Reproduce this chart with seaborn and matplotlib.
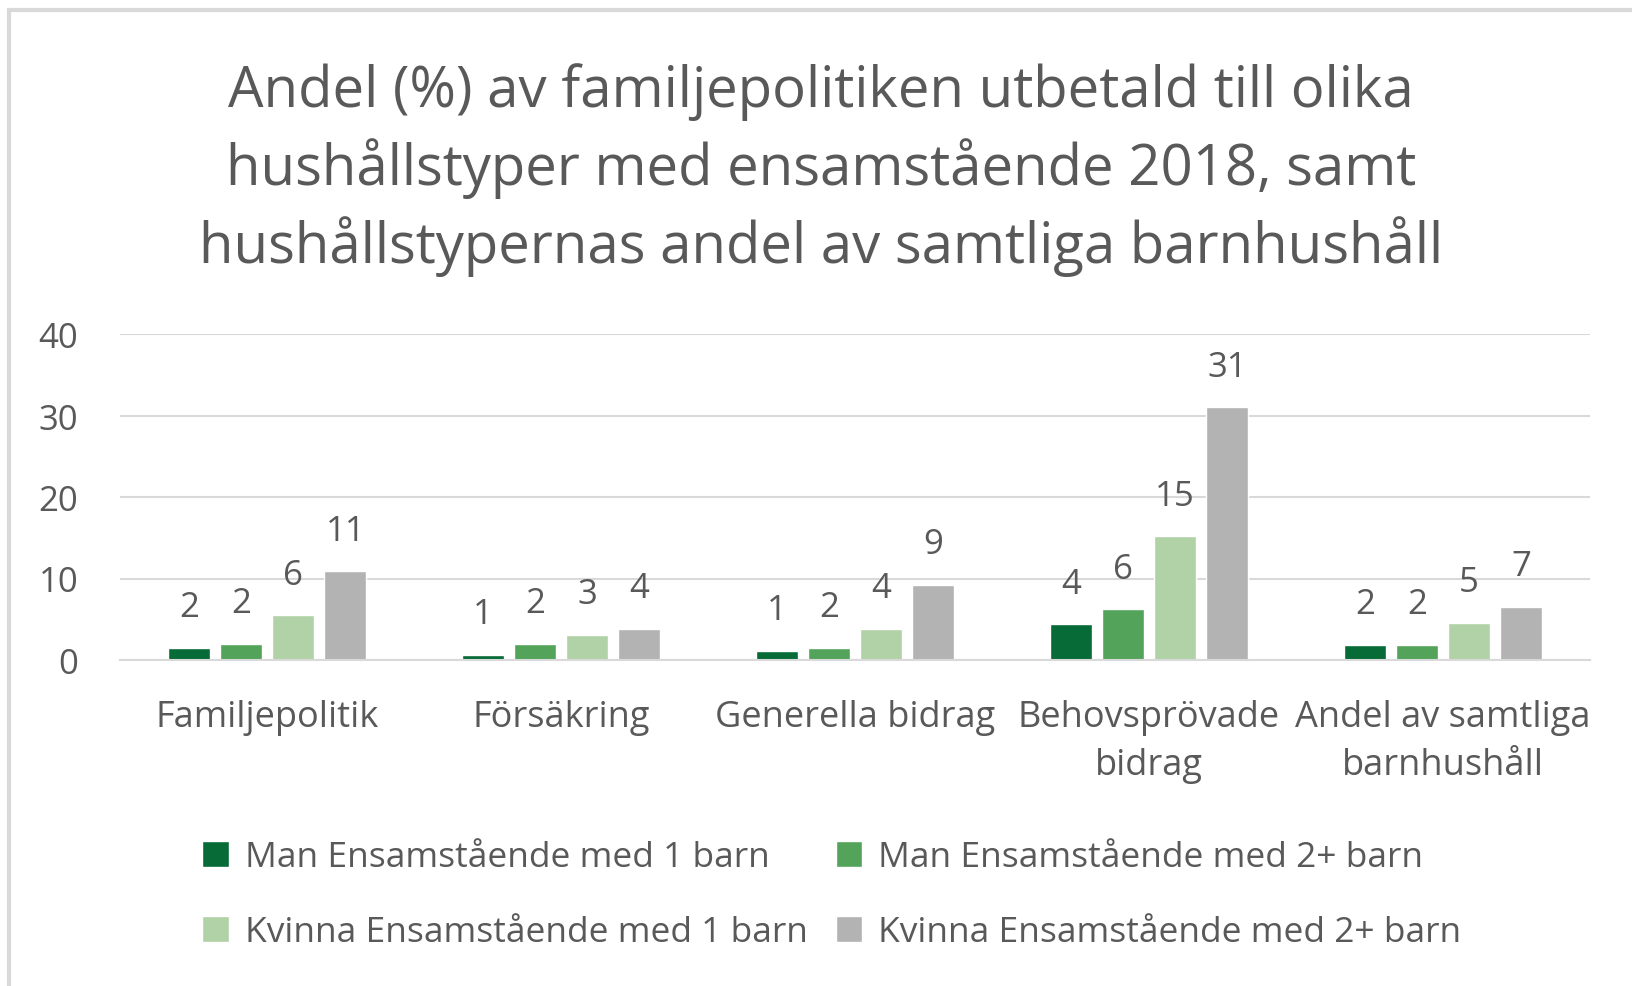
import numpy as np
import pandas as pd
import matplotlib
matplotlib.use("Agg")
import matplotlib.pyplot as plt
import seaborn as sns
from matplotlib.patches import Rectangle

# data
categories = ["Familjepolitik", "Försäkring", "Generella bidrag",
              "Behovsprövade\nbidrag", "Andel av samtliga\nbarnhushåll"]
series = ["Man Ensamstående med 1 barn", "Man Ensamstående med 2+ barn",
          "Kvinna Ensamstående med 1 barn", "Kvinna Ensamstående med 2+ barn"]
man_1 = [1.5, 0.6, 1.1, 4.4, 1.9]
man_2 = [2.0, 2.0, 1.5, 6.2, 1.9]
kvinna_1 = [5.5, 3.1, 3.8, 15.2, 4.6]
kvinna_2 = [10.9, 3.8, 9.2, 31.0, 6.5]
labels_man_1 = [2, 1, 1, 4, 2]
labels_man_2 = [2, 2, 2, 6, 2]
labels_kvinna_1 = [6, 3, 4, 15, 5]
labels_kvinna_2 = [11, 4, 9, 31, 7]
colors = ["#066b37", "#53a35a", "#b1d2a6", "#b3b3b3"]

values = [man_1, man_2, kvinna_1, kvinna_2]
bar_labels = [labels_man_1, labels_man_2, labels_kvinna_1, labels_kvinna_2]

df = pd.DataFrame({
    "kategori": np.repeat(categories, len(series)),
    "serie": series * len(categories),
    "andel": [values[s][c] for c in range(len(categories)) for s in range(len(series))],
})

sns.set_theme(style="white")
plt.rcParams["font.family"] = ["Open Sans", "DejaVu Sans"]
text_grey = "#595959"

fig = plt.figure(figsize=(16.32, 9.87), dpi=100)
ax = fig.add_axes([120 / 1632, 1 - 661 / 987, (1590 - 120) / 1632, (661 - 335) / 987])

sns.barplot(data=df, x="kategori", y="andel", hue="serie", hue_order=series,
            order=categories, palette=colors, width=0.71, gap=0.2,
            saturation=1, ax=ax, legend=True)

# data labels
for container, labs in zip(ax.containers, bar_labels):
    ax.bar_label(container, labels=[str(v) for v in labs], padding=17,
                 fontsize=25, color=text_grey)

ax.set_ylim(0, 40)
ax.set_yticks([0, 10, 20, 30, 40])
ax.yaxis.grid(True, color="#d9d9d9", linewidth=1.5)
ax.set_axisbelow(True)
for s in ["top", "right", "left"]:
    ax.spines[s].set_visible(False)
ax.spines["bottom"].set_color("#d9d9d9")
ax.spines["bottom"].set_linewidth(1.5)
ax.tick_params(axis="y", labelsize=25, labelcolor=text_grey, length=0, pad=30)
ax.tick_params(axis="x", labelsize=26, labelcolor=text_grey, length=0, pad=28)
ax.set_xlabel("")
ax.set_ylabel("")
for lab in ax.get_xticklabels():
    lab.set_linespacing(1.45)

# legend filled row by row like the original
handles, labels = ax.get_legend_handles_labels()
ax.get_legend().remove()
order = [0, 2, 1, 3]
fig.legend([handles[i] for i in order], [labels[i] for i in order],
           loc="upper left", bbox_to_anchor=(188 / 1632, 1 - 827 / 987),
           ncol=2, frameon=False, fontsize=25.5, labelcolor=text_grey,
           handlelength=0.75, handleheight=0.75, handletextpad=0.45,
           columnspacing=0.8, labelspacing=1.15, borderaxespad=0)

fig.text(0.503, 1 - 170 / 987,
         "Andel (%) av familjepolitiken utbetald till olika\n"
         "hushållstyper med ensamstående 2018, samt\n"
         "hushållstypernas andel av samtliga barnhushåll",
         ha="center", va="center", fontsize=40.5, color=text_grey, linespacing=1.37)

# chart frame
fig.patches.append(Rectangle((9 / 1632, -0.1), 1.2, 1 - 11 / 987 + 0.1, transform=fig.transFigure,
                             fill=False, edgecolor="#d9d9d9", linewidth=3))

fig.savefig("out.png", dpi=100)
